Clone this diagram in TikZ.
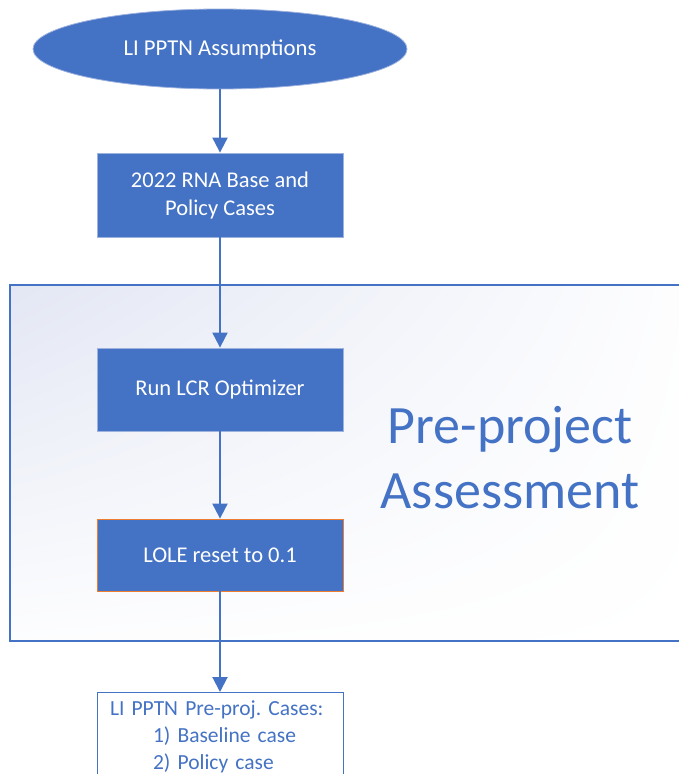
\documentclass[tikz,border=0pt]{standalone}
\usepackage{fontspec}
\setmainfont{Carlito}
\usetikzlibrary{arrows.meta,shapes.geometric,shadings}
\definecolor{ublue}{HTML}{4472C4}
\definecolor{uedge}{HTML}{9DB2DE}
\definecolor{uorange}{HTML}{ED7D31}
\definecolor{ulav}{HTML}{E3E7F4}
\begin{document}
\frenchspacing
\begin{tikzpicture}[x=1pt,y=-1pt,
  flowbox/.style={rectangle,draw=uedge,line width=0.8pt,fill=ublue,text=white,
    minimum width=246pt,align=center,font=\fontsize{22.5}{28}\selectfont,inner sep=0pt},
  conn/.style={draw=ublue,line width=2pt,-{Triangle[width=15pt,length=15pt]}}]
\useasboundingbox (0,0) rectangle (679,774);
\begin{scope}
\clip (0,0) rectangle (679,774);
% frame
\shade[upper left=ulav,upper right=white!96!ulav,lower left=white!92!ulav,lower right=white]
  (10,285) rectangle (700,641);
\draw[ublue,line width=1.5pt] (700,285) -- (10,285) -- (10,641) -- (700,641);
\node[text=ublue,font=\fontsize{54}{65}\selectfont,align=center] (title) at (510,458)
  {Pre-project\\Assessment};
% nodes
\node[ellipse,fill=ublue,draw=uedge,line width=0.8pt,minimum width=374pt,minimum height=80pt,
  text=white,font=\fontsize{22.7}{28}\selectfont,inner sep=0pt] (assum) at (220,49) {LI PPTN Assumptions};
\node[flowbox,minimum height=84pt] (rna) at (220,195) {2022 RNA Base and\\Policy Cases};
\node[flowbox,minimum height=83pt] (lcr) at (220,389.5) {Run LCR Optimizer};
\node[flowbox,draw=uorange,minimum height=72pt] (lole) at (220,555) {LOLE reset to 0.1};
\node[rectangle,draw=ublue,line width=1pt,fill=white,text=ublue,anchor=north,
  minimum width=246pt,text width=220pt,align=left,
  inner sep=0pt,font=\fontsize{21.5}{27}\selectfont] (cases) at (220,692)
  {\rule{0pt}{23pt}LI PPTN Pre-proj. Cases:\\\hspace*{43pt}1) Baseline case\\\hspace*{43pt}2) Policy case\rule[-30pt]{0pt}{0pt}};
% connectors
\draw[conn] (assum) -- (rna);
\draw[conn] (rna) -- (lcr);
\draw[conn] (lcr) -- (lole);
\draw[conn] (lole) -- (cases);
\end{scope}
\end{tikzpicture}
\end{document}
